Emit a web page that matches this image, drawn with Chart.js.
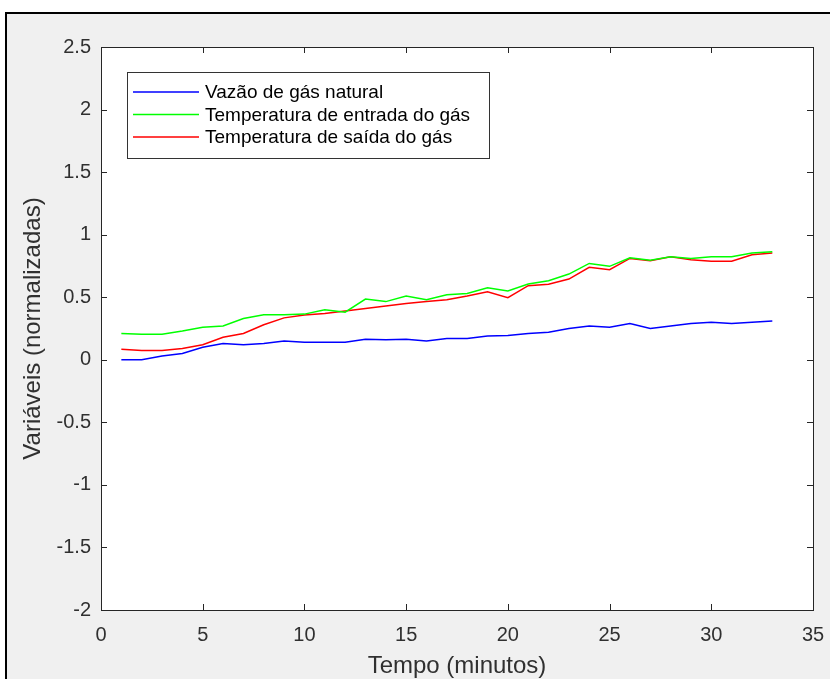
<!DOCTYPE html>
<html>
<head>
<meta charset="utf-8">
<script src="https://cdn.jsdelivr.net/npm/chart.js@4"></script>
<style>
    html, body { margin: 0; padding: 0; background: #fff; overflow: hidden; }
    #frame {
        position: absolute; left: 5px; top: 12px; width: 840px; height: 690px;
        background: #f0f0f0; border-left: 2px solid #000; border-top: 2px solid #000;
    }
    #wrap { position: absolute; left: 0; top: 0; width: 830px; height: 679px; }
</style>
</head>
<body>
<div id="frame"></div>
<div id="wrap"><canvas id="myChart" width="830" height="679"></canvas></div>
<script>
// tempo em minutos
let minutos = [1, 2, 3, 4, 5, 6, 7, 8, 9, 10, 11, 12, 13, 14, 15, 16, 17, 18, 19, 20,
    21, 22, 23, 24, 25, 26, 27, 28, 29, 30, 31, 32, 33];

let vazao = [0.00, 0.00, 0.03, 0.05, 0.10, 0.13, 0.12, 0.13, 0.15, 0.14, 0.14, 0.14, 0.165,
    0.16, 0.165, 0.15, 0.17, 0.17, 0.19, 0.195, 0.21, 0.22, 0.25, 0.27, 0.26, 0.29, 0.25,
    0.27, 0.29, 0.30, 0.29, 0.30, 0.31];
let tempEntrada = [0.21, 0.205, 0.205, 0.23, 0.26, 0.27, 0.33, 0.36, 0.36, 0.365, 0.40, 0.38,
    0.485, 0.465, 0.51, 0.48, 0.52, 0.53, 0.576, 0.55, 0.605, 0.632, 0.685, 0.77, 0.747,
    0.816, 0.795, 0.824, 0.81, 0.824, 0.824, 0.853, 0.864];
let tempSaida = [0.085, 0.075, 0.075, 0.09, 0.12, 0.18, 0.21, 0.28, 0.335, 0.357, 0.37, 0.39,
    0.41, 0.43, 0.45, 0.465, 0.48, 0.51, 0.544, 0.496, 0.592, 0.603, 0.645, 0.739, 0.72,
    0.81, 0.792, 0.824, 0.80, 0.787, 0.787, 0.84, 0.853];

let nomes = ['Vazão de gás natural', 'Temperatura de entrada do gás', 'Temperatura de saída do gás'];
let cores = ['#0000ff', '#00ff00', '#ff0000'];

let xTicks = [0, 5, 10, 15, 20, 25, 30, 35];
let yTicks = [-2, -1.5, -1, -0.5, 0, 0.5, 1, 1.5, 2, 2.5];

let fonte = '"Liberation Sans", Arial, Helvetica, sans-serif';
let corEixo = '#303030';

// caixa branca, ticks para dentro (estilo matlab) e legenda dentro do grafico
const matlabAxes = {
    id: 'matlabAxes',
    beforeDatasetsDraw(chart) {
        const a = chart.chartArea;
        const ctx = chart.ctx;
        ctx.save();
        ctx.fillStyle = '#fff';
        ctx.fillRect(a.left, a.top, a.right - a.left, a.bottom - a.top);
        ctx.restore();
    },
    afterDatasetsDraw(chart) {
        const a = chart.chartArea;
        const ctx = chart.ctx;
        const tl = 6;
        ctx.save();
        ctx.strokeStyle = '#262626';
        ctx.lineWidth = 1;
        ctx.beginPath();
        xTicks.forEach(v => {
            let px = Math.round(chart.scales.x.getPixelForValue(v)) + 0.5;
            ctx.moveTo(px, a.bottom); ctx.lineTo(px, a.bottom - tl);
            ctx.moveTo(px, a.top); ctx.lineTo(px, a.top + tl);
        });
        yTicks.forEach(v => {
            let py = Math.round(chart.scales.y.getPixelForValue(v)) + 0.5;
            ctx.moveTo(a.left, py); ctx.lineTo(a.left + tl, py);
            ctx.moveTo(a.right, py); ctx.lineTo(a.right - tl, py);
        });
        ctx.stroke();
        ctx.strokeRect(Math.round(a.left) + 0.5, Math.round(a.top) + 0.5,
            Math.round(a.right - a.left), Math.round(a.bottom - a.top));

        // legenda
        let lx = a.left + 26, ly = a.top + 25, lw = 362, lh = 86;
        ctx.fillStyle = '#fff';
        ctx.fillRect(lx, ly, lw, lh);
        ctx.strokeStyle = '#333';
        ctx.strokeRect(lx + 0.5, ly + 0.5, lw, lh);
        ctx.font = '19px ' + fonte;
        ctx.textBaseline = 'middle';
        chart.data.datasets.forEach((ds, i) => {
            let ry = ly + 20 + i * 22.5;
            ctx.strokeStyle = ds.borderColor;
            ctx.lineWidth = 1.5;
            ctx.beginPath();
            ctx.moveTo(lx + 6, ry); ctx.lineTo(lx + 72, ry);
            ctx.stroke();
            ctx.fillStyle = '#000';
            ctx.fillText(ds.label, lx + 78, ry + 1);
        });
        ctx.restore();
    }
};

let datasets = [vazao, tempEntrada, tempSaida].map((serie, i) => ({
    label: nomes[i],
    data: serie,
    borderColor: cores[i],
    backgroundColor: cores[i],
    borderWidth: 1.5,
    pointRadius: 0,
    tension: 0,
    fill: false
}));

new Chart(document.getElementById('myChart').getContext('2d'), {
    type: 'line',
    data: { labels: minutos, datasets: datasets },
    plugins: [matlabAxes],
    options: {
        responsive: false,
        animation: false,
        events: [],
        layout: { padding: { top: 47, right: 17, bottom: 0, left: 0 } },
        plugins: { legend: { display: false }, tooltip: { enabled: false } },
        scales: {
            x: {
                type: 'linear', min: 0, max: 35,
                afterBuildTicks: s => { s.ticks = xTicks.map(v => ({ value: v })); },
                afterFit: s => { s.height = 69; s.paddingLeft = 0; s.paddingRight = 0; },
                grid: { display: false, drawTicks: false },
                border: { display: false },
                ticks: { color: corEixo, padding: 13, maxRotation: 0, font: { family: fonte, size: 20 } },
                title: {
                    display: true, text: 'Tempo (minutos)', color: corEixo,
                    padding: { top: 0, bottom: 1 },
                    font: { family: fonte, size: 24, lineHeight: 1 }
                }
            },
            y: {
                type: 'linear', min: -2, max: 2.5,
                afterBuildTicks: s => { s.ticks = yTicks.map(v => ({ value: v })); },
                afterFit: s => { s.width = 101; s.paddingTop = 0; s.paddingBottom = 0; },
                grid: { display: false, drawTicks: false },
                border: { display: false },
                ticks: {
                    color: corEixo, padding: 10, font: { family: fonte, size: 20 },
                    callback: v => String(Math.round(v * 10) / 10)
                },
                title: {
                    display: true, text: 'Variáveis (normalizadas)', color: corEixo,
                    padding: { top: 21, bottom: 0 },
                    font: { family: fonte, size: 24, lineHeight: 1 }
                }
            }
        }
    }
});
</script>
</body>
</html>
